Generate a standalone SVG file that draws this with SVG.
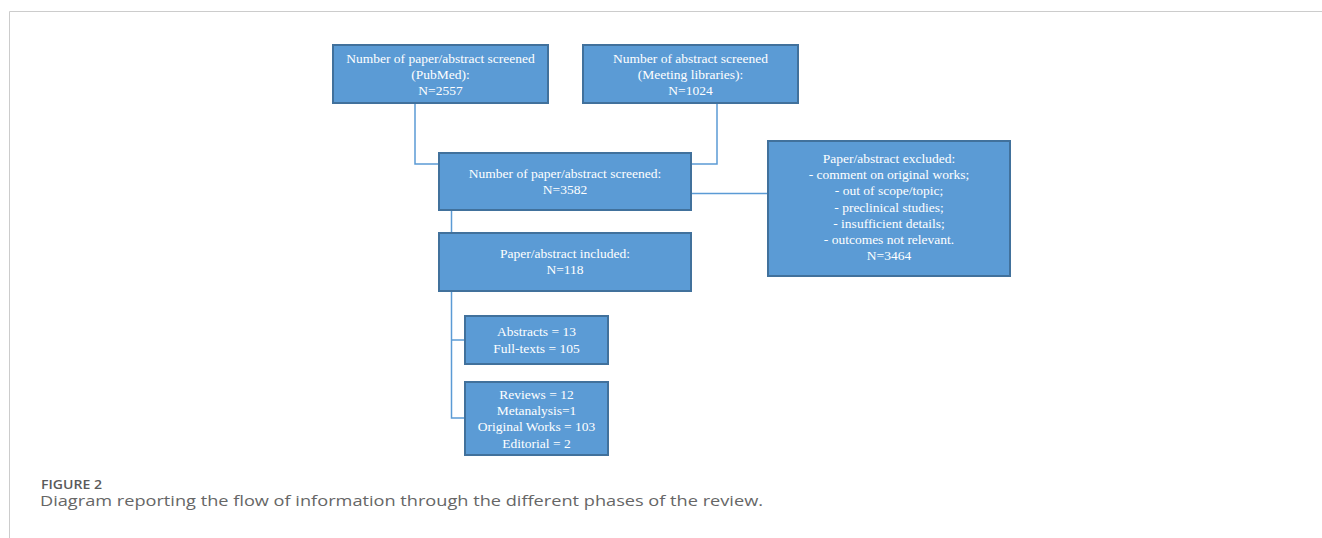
<svg xmlns="http://www.w3.org/2000/svg" width="1322" height="538" viewBox="0 0 1322 538">
<style>
.box{fill:#5B9BD5;stroke:#41719C;stroke-width:2}
.t{font-family:"Liberation Serif","Times New Roman",serif;font-size:13.5px;fill:#ffffff;text-anchor:middle}
.c{fill:none;stroke:#5B9BD5;stroke-width:1.5}
</style>
<rect width="1322" height="538" fill="#ffffff"/>
<path d="M9.5,538 V11.5 H1322" fill="none" stroke="#cccccc" stroke-width="1"/>
<g id="connectors">
<path class="c" d="M415,103 V164 H439"/>
<path class="c" d="M717,103 V164 H691"/>
<path class="c" d="M691,193.5 H768"/>
<path class="c" d="M451.5,210 V233"/>
<path class="c" d="M451.5,290 V418 H465"/>
<path class="c" d="M451.5,340 H465"/>
</g>
<g id="pubmed">
<rect class="box" x="333" y="45" width="215" height="58"/>
<text class="t" x="440.5" y="62.5">Number of paper/abstract screened</text>
<text class="t" x="440.5" y="79">(PubMed):</text>
<text class="t" x="440.5" y="95">N=2557</text>
</g>
<g id="meeting">
<rect class="box" x="583" y="45" width="215" height="58"/>
<text class="t" x="690.5" y="62.5">Number of abstract screened</text>
<text class="t" x="690.5" y="79">(Meeting libraries):</text>
<text class="t" x="690.5" y="95">N=1024</text>
</g>
<g id="screened">
<rect class="box" x="439" y="153" width="252" height="57"/>
<text class="t" x="565" y="178">Number of paper/abstract screened:</text>
<text class="t" x="565" y="194">N=3582</text>
</g>
<g id="excluded">
<rect class="box" x="768" y="141" width="242" height="135"/>
<text class="t" x="889" y="163">Paper/abstract excluded:</text>
<text class="t" x="889" y="179">- comment on original works;</text>
<text class="t" x="889" y="195">- out of scope/topic;</text>
<text class="t" x="889" y="211.5">- preclinical studies;</text>
<text class="t" x="889" y="227.5">- insufficient details;</text>
<text class="t" x="889" y="243.5">- outcomes not relevant.</text>
<text class="t" x="889" y="259.5">N=3464</text>
</g>
<g id="included">
<rect class="box" x="439" y="233" width="252" height="58"/>
<text class="t" x="565" y="257.5">Paper/abstract included:</text>
<text class="t" x="565" y="274">N=118</text>
</g>
<g id="types">
<rect class="box" x="465" y="316" width="143" height="48"/>
<text class="t" x="536.5" y="336">Abstracts = 13</text>
<text class="t" x="536.5" y="352.5">Full-texts = 105</text>
</g>
<g id="categories">
<rect class="box" x="465" y="382" width="143" height="73"/>
<text class="t" x="536.5" y="398.5">Reviews = 12</text>
<text class="t" x="536.5" y="415">Metanalysis=1</text>
<text class="t" x="536.5" y="431">Original Works = 103</text>
<text class="t" x="536.5" y="447.5">Editorial = 2</text>
</g>
<text x="41" y="489" font-family="'Open Sans','Noto Sans',sans-serif" font-size="12" font-weight="600" fill="#5a5a5a" textLength="61" lengthAdjust="spacingAndGlyphs">FIGURE 2</text>
<text x="40" y="505.5" font-family="'Open Sans','Noto Sans',sans-serif" font-size="14" fill="#666666" textLength="723" lengthAdjust="spacingAndGlyphs">Diagram reporting the flow of information through the different phases of the review.</text>
</svg>
